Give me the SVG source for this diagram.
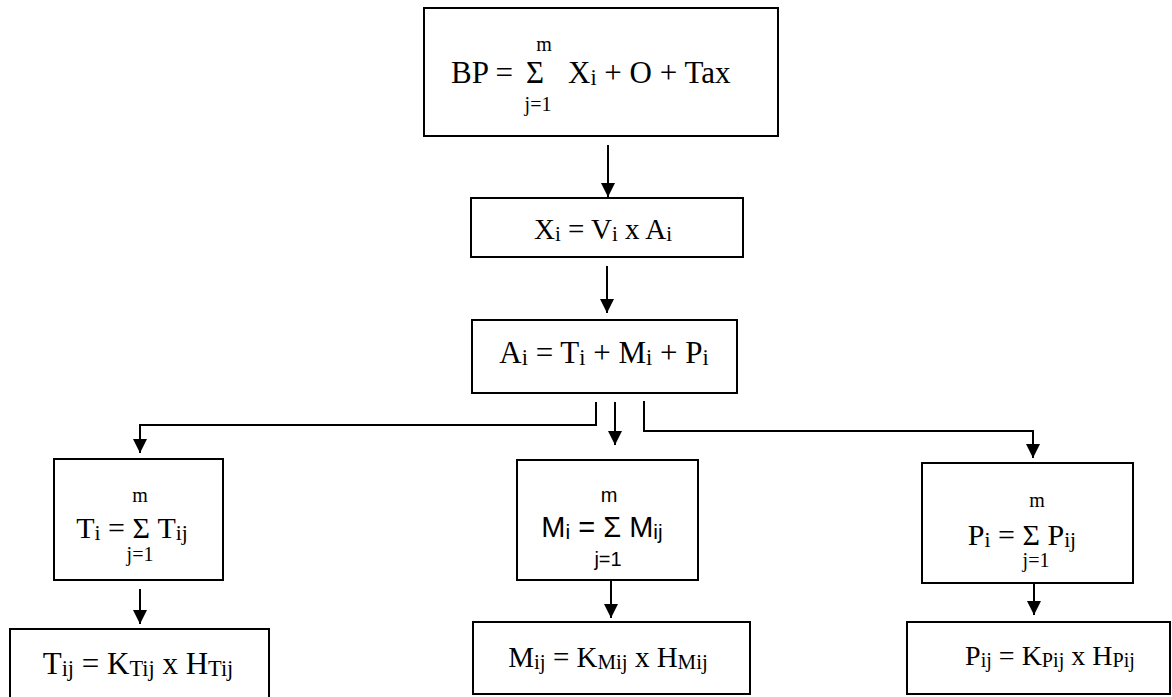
<svg xmlns="http://www.w3.org/2000/svg" width="1172" height="697" viewBox="0 0 1172 697">
<style>
.box{fill:#fff;stroke:#000;stroke-width:2}
.t{font-family:"Liberation Serif","Times New Roman",serif;font-size:30px;fill:#000}
.s{font-family:"Liberation Serif","Times New Roman",serif;font-size:20px;fill:#000}
.ta{font-family:"Liberation Sans",Arial,sans-serif;font-size:29px;fill:#000}
.sa{font-family:"Liberation Sans",Arial,sans-serif;font-size:20px;fill:#000}
.sub{font-size:0.72em}
.c{fill:none;stroke:#000;stroke-width:2}
</style>
<defs>
<marker id="ah" markerUnits="userSpaceOnUse" markerWidth="14" markerHeight="14" refX="14" refY="7" orient="auto" viewBox="0 0 14 14">
<path d="M0,0 L14,7 L0,14 z" fill="#000"/>
</marker>
</defs>
<g id="connectors">
<path class="c" d="M608,145 V197" marker-end="url(#ah)"/>
<path class="c" d="M607,266 V313" marker-end="url(#ah)"/>
<path class="c" d="M596,402 V425 H140 V453" marker-end="url(#ah)"/>
<path class="c" d="M615,402 V445" marker-end="url(#ah)"/>
<path class="c" d="M644,401 V431 H1033 V458" marker-end="url(#ah)"/>
<path class="c" d="M140,589 V624" marker-end="url(#ah)"/>
<path class="c" d="M611,580 V618" marker-end="url(#ah)"/>
<path class="c" d="M1034,583 V615" marker-end="url(#ah)"/>
</g>
<g id="bp">
<rect class="box" x="424" y="8" width="354" height="128"/>
<text class="t" x="451" y="83" style="font-size:31px">BP =</text>
<text class="t" x="535" y="83" text-anchor="middle" style="font-size:31px">Σ</text>
<text class="s" x="544" y="51" text-anchor="middle">m</text>
<text class="s" x="538" y="111" text-anchor="middle">j=1</text>
<text class="t" x="568" y="83" style="font-size:31px">X<tspan class="sub" dy="2">i</tspan><tspan dy="-2"> + O + Tax</tspan></text>
</g>
<g id="xi">
<rect class="box" x="471" y="198" width="272" height="59"/>
<text class="t" x="603" y="239" text-anchor="middle" style="font-size:29px">X<tspan class="sub" dy="2">i</tspan><tspan dy="-2"> = V</tspan><tspan class="sub" dy="2">i</tspan><tspan dy="-2"> x A</tspan><tspan class="sub" dy="2">i</tspan></text>
</g>
<g id="ai">
<rect class="box" x="472" y="320" width="265" height="73"/>
<text class="t" x="604" y="363" text-anchor="middle" style="font-size:31px">A<tspan class="sub" dy="2">i</tspan><tspan dy="-2"> = T</tspan><tspan class="sub" dy="2">i</tspan><tspan dy="-2"> + M</tspan><tspan class="sub" dy="2">i</tspan><tspan dy="-2"> + P</tspan><tspan class="sub" dy="2">i</tspan></text>
</g>
<g id="ti">
<rect class="box" x="54" y="459" width="169" height="121"/>
<text class="s" x="140" y="502" text-anchor="middle">m</text>
<text class="t" x="132" y="538" text-anchor="middle">T<tspan class="sub" dy="2">i</tspan><tspan dy="-2"> = Σ T</tspan><tspan class="sub" dy="2">ij</tspan></text>
<text class="s" x="140" y="561" text-anchor="middle">j=1</text>
</g>
<g id="mi">
<rect class="box" x="517" y="460" width="181" height="120"/>
<text class="sa" x="609" y="502" text-anchor="middle">m</text>
<text class="ta" x="602" y="537" text-anchor="middle">M<tspan class="sub" dy="2">i</tspan><tspan dy="-2"> = Σ M</tspan><tspan class="sub" dy="2">ij</tspan></text>
<text class="sa" x="608" y="566" text-anchor="middle">j=1</text>
</g>
<g id="pi">
<rect class="box" x="922" y="463" width="211" height="120"/>
<text class="s" x="1037" y="507" text-anchor="middle">m</text>
<text class="t" x="1022" y="545" text-anchor="middle">P<tspan class="sub" dy="2">i</tspan><tspan dy="-2"> = Σ P</tspan><tspan class="sub" dy="2">ij</tspan></text>
<text class="s" x="1036" y="567" text-anchor="middle">j=1</text>
</g>
<g id="tij">
<rect class="box" x="10" y="629" width="259" height="80"/>
<text class="t" x="138" y="674" text-anchor="middle" style="font-size:31px">T<tspan class="sub" dy="2">ij</tspan><tspan dy="-2"> = K</tspan><tspan class="sub" dy="2">Tij</tspan><tspan dy="-2"> x H</tspan><tspan class="sub" dy="2">Tij</tspan></text>
</g>
<g id="mij">
<rect class="box" x="473" y="622" width="277" height="72"/>
<text class="t" x="608" y="667" text-anchor="middle" style="font-size:29px">M<tspan class="sub" dy="2">ij</tspan><tspan dy="-2"> = K</tspan><tspan class="sub" dy="2">Mij</tspan><tspan dy="-2"> x H</tspan><tspan class="sub" dy="2">Mij</tspan></text>
</g>
<g id="pij">
<rect class="box" x="907" y="622" width="263" height="72"/>
<text class="t" x="1050" y="665" text-anchor="middle" style="font-size:28px">P<tspan class="sub" dy="2">ij</tspan><tspan dy="-2"> = K</tspan><tspan class="sub" dy="2">Pij</tspan><tspan dy="-2"> x H</tspan><tspan class="sub" dy="2">Pij</tspan></text>
</g>
</svg>
